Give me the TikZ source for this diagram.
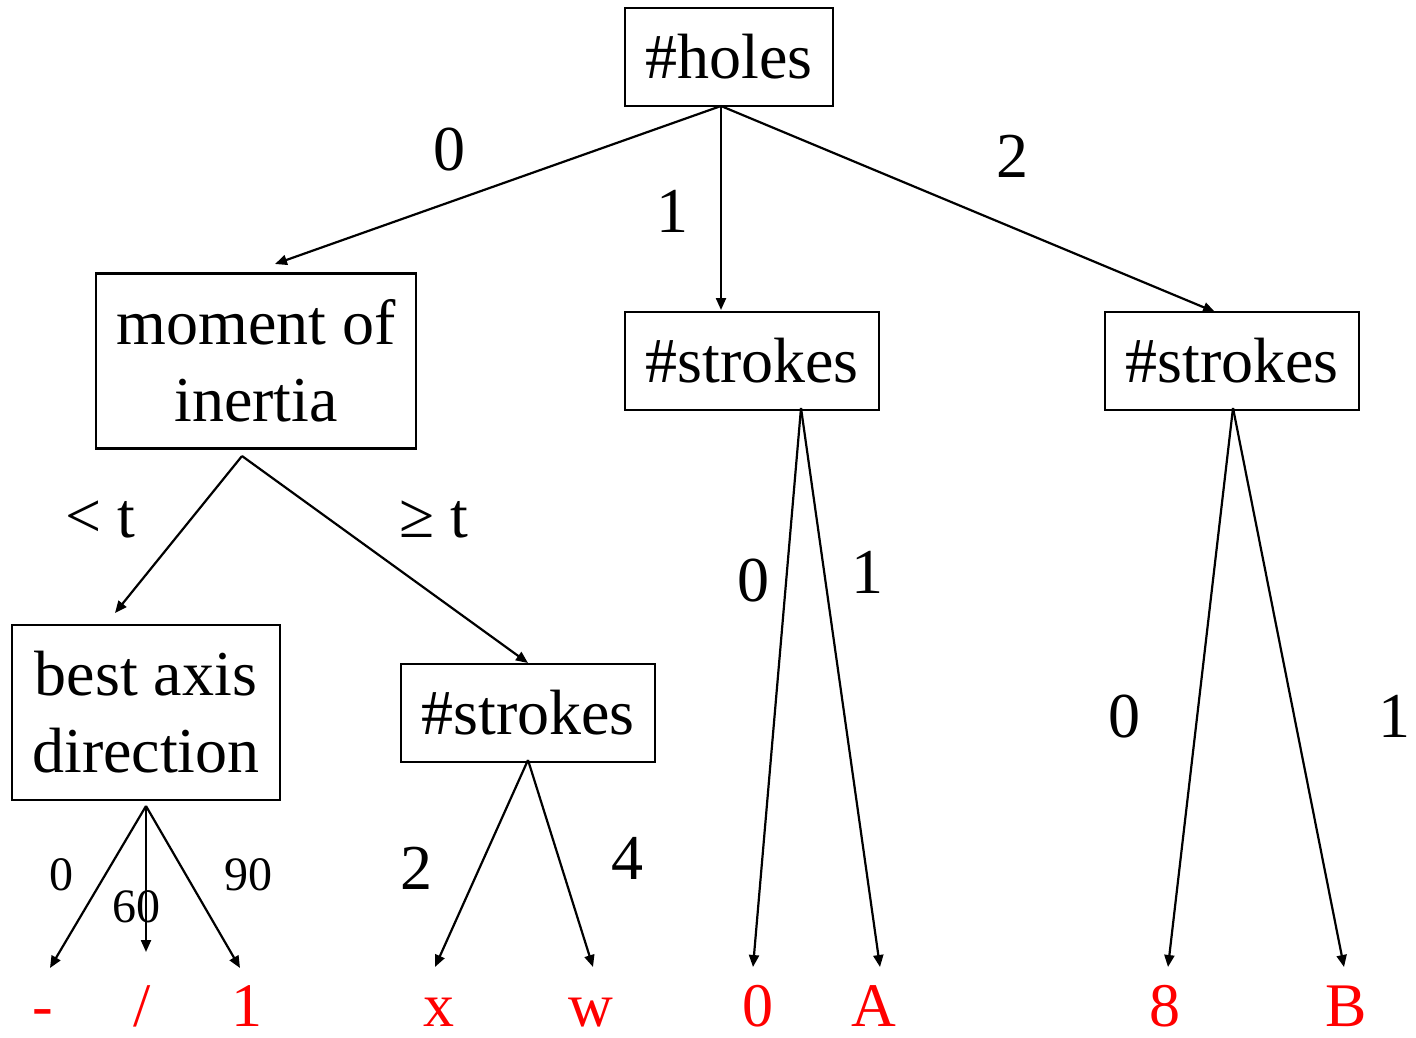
\documentclass[tikz,border=0pt]{standalone}
\usepackage{fontspec}
\setmainfont{Liberation Serif}
\usetikzlibrary{arrows.meta}
\begin{document}
\begin{tikzpicture}[x=1pt,y=-1pt,
  box/.style={draw, line width=2.4pt, inner sep=0pt, align=center,
              font=\fontsize{64}{77}\selectfont},
  lbl/.style={anchor=base, inner sep=0pt, font=\fontsize{64}{77}\selectfont},
  slbl/.style={anchor=base, inner sep=0pt, font=\fontsize{48}{56}\selectfont},
  leaf/.style={anchor=base, inner sep=0pt, text=red, font=\fontsize{62}{74}\selectfont},
  edge/.style={line width=2.2pt, -{Triangle[length=12pt,width=10pt]}}]
\useasboundingbox (0,0) rectangle (1416,1037);

% decision nodes
\node[box, minimum width=208pt, minimum height=98pt] (holes) at (729,57) {\#holes};
\node[box, minimum width=320pt, minimum height=175pt] (moment) at (256,361) {moment of\\inertia};
\node[box, minimum width=254pt, minimum height=98pt] (smid) at (752,361) {\#strokes};
\node[box, minimum width=254pt, minimum height=98pt] (sright) at (1232,361) {\#strokes};
\node[box, minimum width=268pt, minimum height=175pt] (axis) at (146,712.5) {best axis\\direction};
\node[box, minimum width=254pt, minimum height=98pt] (sleft) at (528,713) {\#strokes};

% leaves
\node[leaf] (lminus) at (43,1026) {-};
\node[leaf] (lslash) at (142,1026) {/};
\node[leaf] (lone) at (247,1026) {1};
\node[leaf] (lx) at (439,1026) {x};
\node[leaf] (lw) at (591,1026) {w};
\node[leaf] (lzero) at (758,1026) {0};
\node[leaf] (lA) at (874,1026) {A};
\node[leaf] (leight) at (1165,1026) {8};
\node[leaf] (lB) at (1346,1026) {B};

% branch start and end points
\coordinate (holes-o) at (721,106);
\coordinate (moment-i) at (275,264);
\coordinate (smid-i) at (721,310);
\coordinate (sright-i) at (1215,312);
\coordinate (moment-o) at (242,456);
\coordinate (axis-i) at (115,613);
\coordinate (sleft-i) at (528,663);
\coordinate (axis-o) at (146,806);
\coordinate (lminus-i) at (50,968);
\coordinate (lslash-i) at (146,952);
\coordinate (lone-i) at (240,968);
\coordinate (sleft-o) at (528,760);
\coordinate (lx-i) at (435,967);
\coordinate (lw-i) at (593,967);
\coordinate (smid-o) at (801,408);
\coordinate (lzero-i) at (753,967);
\coordinate (lA-i) at (880,967);
\coordinate (sright-o) at (1233,408);
\coordinate (leight-i) at (1168,967);
\coordinate (lB-i) at (1344,967);

% branches
\draw[edge] (holes-o) -- (moment-i);
\draw[edge] (holes-o) -- (smid-i);
\draw[edge] (holes-o) -- (sright-i);
\draw[edge] (moment-o) -- (axis-i);
\draw[edge] (moment-o) -- (sleft-i);
\draw[edge] (axis-o) -- (lminus-i);
\draw[edge] (axis-o) -- (lslash-i);
\draw[edge] (axis-o) -- (lone-i);
\draw[edge] (sleft-o) -- (lx-i);
\draw[edge] (sleft-o) -- (lw-i);
\draw[edge] (smid-o) -- (lzero-i);
\draw[edge] (smid-o) -- (lA-i);
\draw[edge] (sright-o) -- (leight-i);
\draw[edge] (sright-o) -- (lB-i);

% branch labels
\node[lbl] (e-h0) at (449,170) {0};
\node[lbl] (e-h1) at (672,232) {1};
\node[lbl] (e-h2) at (1012,177) {2};
\node[lbl] (e-lt) at (100,537) {< t};
\node[lbl] (e-ge) at (434,537) {≥ t};
\node[slbl] (e-a0) at (61,890) {0};
\node[slbl] (e-a60) at (136,922) {60};
\node[slbl] (e-a90) at (248,890) {90};
\node[lbl] (e-s2) at (416,889) {2};
\node[lbl] (e-s4) at (627,879) {4};
\node[lbl] (e-m0) at (753,601) {0};
\node[lbl] (e-m1) at (867,593) {1};
\node[lbl] (e-r0) at (1124,737) {0};
\node[lbl] (e-r1) at (1394,737) {1};
\end{tikzpicture}
\end{document}
